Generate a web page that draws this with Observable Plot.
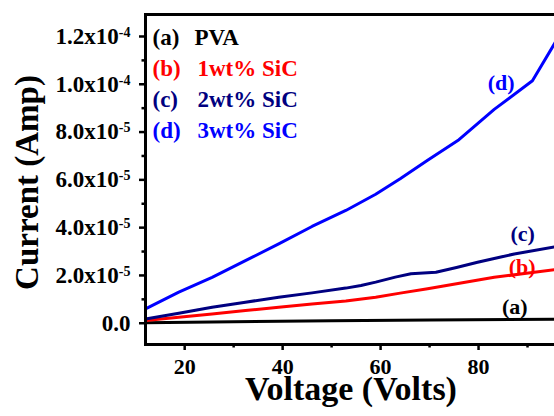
<!DOCTYPE html>
<html>
<head>
<meta charset="utf-8">
<script src="https://cdn.jsdelivr.net/npm/d3@7"></script>
<script src="https://cdn.jsdelivr.net/npm/@observablehq/plot@0.6"></script>
<style>
  html, body { margin: 0; padding: 0; background: #fff; overflow: hidden; width: 554px; height: 416px; }
  #chart svg { max-width: none !important; display: block; }
</style>
</head>
<body>
<div id="chart"></div>
<script>
// ---- data ----
const seriesTags = ["(a)", "(b)", "(c)", "(d)"];
const seriesLabels = ["PVA", "1wt% SiC", "2wt% SiC", "3wt% SiC"];
const seriesColors = ["#000000", "#ff0000", "#000080", "#0000ff"];

const voltsA = [12, 30, 50, 70, 95.8];
const currentA = [0.02e-5, 0.06e-5, 0.10e-5, 0.14e-5, 0.17e-5];

const voltsB = [12, 18.8, 25.6, 32.4, 39.2, 46, 52.9, 59, 64, 69.6, 76.4, 83.2, 89, 95.8];
const currentB = [0.11e-5, 0.25e-5, 0.39e-5, 0.53e-5, 0.67e-5, 0.80e-5, 0.93e-5, 1.09e-5, 1.26e-5, 1.44e-5, 1.68e-5, 1.92e-5, 2.07e-5, 2.25e-5];

const voltsC = [12, 18.8, 25.6, 32.4, 39.2, 46, 52.9, 56, 59, 63, 66.2, 71.3, 75.5, 79.8, 87.3, 95.8];
const currentC = [0.18e-5, 0.42e-5, 0.67e-5, 0.88e-5, 1.09e-5, 1.27e-5, 1.47e-5, 1.58e-5, 1.72e-5, 1.93e-5, 2.07e-5, 2.13e-5, 2.33e-5, 2.55e-5, 2.90e-5, 3.20e-5];

const voltsD = [12, 18.8, 25.6, 32.4, 39.2, 46, 52.9, 59, 64, 69.6, 76, 83.2, 91, 95.8];
const currentD = [0.60e-5, 1.30e-5, 1.92e-5, 2.62e-5, 3.32e-5, 4.05e-5, 4.72e-5, 5.40e-5, 6.05e-5, 6.82e-5, 7.68e-5, 8.95e-5, 10.15e-5, 11.8e-5];

// curve annotation anchors (data space)
const annotVolts = [87.4, 88.9, 89.0, 84.6];
const annotCurrent = [0.68e-5, 2.37e-5, 3.73e-5, 10.07e-5];

const xTicks = [20, 40, 60, 80];
const xMinorTicks = [30, 50, 70, 90];
const yTicks = [0, 2e-5, 4e-5, 6e-5, 8e-5, 1.0e-4, 1.2e-4];
const yTickLabels = ["0.0", "2.0x10^-5", "4.0x10^-5", "6.0x10^-5", "8.0x10^-5", "1.0x10^-4", "1.2x10^-4"];
const yMinorTicks = [1e-5, 3e-5, 5e-5, 7e-5, 9e-5, 1.1e-4];

const xTitle = "Voltage (Volts)";
const yTitle = "Current (Amp)";

// ---- build table ----
const allV = [voltsA, voltsB, voltsC, voltsD];
const allI = [currentA, currentB, currentC, currentD];
const rows = [];
allV.forEach((vs, s) => vs.forEach((v, i) => rows.push({series: seriesTags[s], v, I: allI[s][i]})));
const annots = seriesTags.map((t, i) => ({series: t, v: annotVolts[i], I: annotCurrent[i]}));

const FONT = "'Liberation Serif', 'Times New Roman', serif";
const yLabelFor = d => {
  const k = yTicks.findIndex(t => Math.abs(t - d) < 1e-9);
  return k >= 0 ? yTickLabels[k] : "";
};

// legend rows: tag and name, stacked from the top-left of the frame
const legendMarks = [];
seriesTags.forEach((t, i) => {
  const common = {frameAnchor: "top-left", fill: seriesColors[i], fontSize: 23, fontWeight: "bold",
                  textAnchor: "start", lineAnchor: "middle", dy: 23.5 + i * 31};
  legendMarks.push(Plot.text([t], {...common, text: d => d, dx: 7}));
  legendMarks.push(Plot.text([seriesLabels[i]], {...common, text: d => d, dx: i === 0 ? 49 : 52}));
});

const chart = Plot.plot({
  width: 586,
  height: 416,
  marginLeft: 145,
  marginRight: 10,
  marginTop: 14,
  marginBottom: 72,
  style: {fontFamily: FONT, fontWeight: "bold", background: "#fff", color: "#000"},
  x: {domain: [12, 100]},
  y: {domain: [-0.89e-5, 1.292e-4]},
  color: {domain: seriesTags, range: seriesColors},
  marks: [
    Plot.axisX(xTicks, {tickSize: 6, tickPadding: 7.5, fontSize: 22, fontWeight: "bold", strokeWidth: 2.5, label: null, tickFormat: d => String(d)}),
    Plot.axisX(xMinorTicks, {tickSize: 3.5, strokeWidth: 2.5, label: null, tickFormat: () => ""}),
    Plot.axisY(yTicks, {tickSize: 6, tickPadding: 9, fontSize: 23, fontWeight: "bold", strokeWidth: 2.5, label: null, tickFormat: yLabelFor}),
    Plot.axisY(yMinorTicks, {tickSize: 3.5, strokeWidth: 2.5, label: null, tickFormat: () => ""}),
    Plot.line(rows, {x: "v", y: "I", z: "series", stroke: "series", strokeWidth: 3, curve: "linear"}),
    Plot.frame({stroke: "#000", strokeWidth: 3}),
    Plot.text(annots, {x: "v", y: "I", text: "series", fill: "series", fontSize: 22, fontWeight: "bold", textAnchor: "middle", lineAnchor: "middle"}),
    ...legendMarks,
    // axis titles
    Plot.text([yTitle], {frameAnchor: "left", text: d => d, rotate: -90, dx: -118, dy: 3, fontSize: 33, fontWeight: "bold", textAnchor: "middle", lineAnchor: "middle"}),
    Plot.text([xTitle], {frameAnchor: "bottom", text: d => d, dx: -10, dy: 31, fontSize: 34, fontWeight: "bold", textAnchor: "middle", lineAnchor: "top"})
  ]
});

// superscript exponents in y tick labels
chart.querySelectorAll('g[aria-label="y-axis tick label"] text').forEach(t => {
  const s = t.textContent;
  const k = s.indexOf("^");
  if (k < 0) return;
  t.textContent = s.slice(0, k);
  const ts = document.createElementNS("http://www.w3.org/2000/svg", "tspan");
  ts.setAttribute("dy", "-7");
  ts.setAttribute("font-size", "14");
  ts.textContent = s.slice(k + 1);
  t.appendChild(ts);
});

chart.style.maxWidth = "none";
document.getElementById("chart").appendChild(chart);
</script>
</body>
</html>
